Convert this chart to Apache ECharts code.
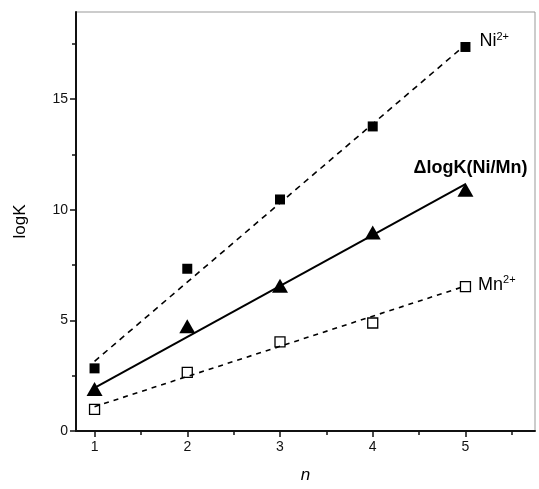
<!DOCTYPE html>
<html>
<head>
<meta charset="utf-8">
<script src="https://cdn.jsdelivr.net/npm/echarts@6/dist/echarts.min.js"></script>
<style>
  html, body { margin: 0; padding: 0; background: #fff; }
  #chart { width: 539px; height: 489px; }
</style>
</head>
<body>
<div id="chart"></div>
<script>
var chart = echarts.init(document.getElementById('chart'));

// valores
var n = [1, 2, 3, 4, 5];
var ni = [2.83, 7.33, 10.46, 13.76, 17.35];       // Ni2+ (cuadrado lleno)
var delta = [1.9, 4.73, 6.56, 8.97, 10.9];       // ΔlogK(Ni/Mn) (triángulo)
var mn = [0.98, 2.65, 4.03, 4.88, 6.52];         // Mn2+ (cuadrado vacío)

// extremos de las rectas de ajuste
var niFit = [3.15, 17.45];
var deltaFit = [1.95, 11.15];
var mnFit = [1.1, 6.55];

var xTicks = [1, 2, 3, 4, 5];
var xMinor = [1.5, 2.5, 3.5, 4.5, 5.5];
var yTicks = [0, 5, 10, 15];
var yMinor = [2.5, 7.5, 12.5, 17.5];

function pares(xs, ys) { return xs.map(function (x, i) { return [x, ys[i]]; }); }
function recta(f) { return [[n[0], f[0]], [n[n.length - 1], f[1]]]; }

var fuente = 'Liberation Sans, Arial, sans-serif';
var sup = { fontSize: 11, verticalAlign: 'top', padding: [0, 0, 9, 0], fontFamily: fuente, color: '#000' };

var ejeX = {
  type: 'value', min: 0.8, max: 5.75, position: 'bottom',
  splitLine: { show: false }
};
var ejeY = {
  type: 'value', min: 0, max: 18.93, position: 'left',
  splitLine: { show: false }
};

var option = {
  animation: false,
  grid: { left: 76, right: 4, top: 12, bottom: 53, show: true, borderColor: '#999', borderWidth: 1 },
  xAxis: [
    Object.assign({}, ejeX, {
      name: 'n', nameLocation: 'middle', nameGap: 36,
      nameTextStyle: { fontFamily: fuente, fontSize: 17, fontStyle: 'italic', color: '#000' },
      axisLine: { lineStyle: { color: '#111', width: 2 } },
      axisTick: { inside: false, length: 6, customValues: xTicks, lineStyle: { color: '#111', width: 1.5 } },
      axisLabel: { customValues: xTicks, margin: 9, fontFamily: fuente, fontSize: 14, color: '#111' }
    }),
    Object.assign({}, ejeX, {
      axisLine: { show: false },
      axisTick: { length: 4, customValues: xMinor, lineStyle: { color: '#111', width: 1.5 } },
      axisLabel: { show: false }
    })
  ],
  yAxis: [
    Object.assign({}, ejeY, {
      name: 'logK', nameLocation: 'middle', nameGap: 47,
      nameTextStyle: { fontFamily: fuente, fontSize: 17, color: '#000' },
      axisLine: { lineStyle: { color: '#111', width: 2 } },
      axisTick: { length: 6, customValues: yTicks, lineStyle: { color: '#111', width: 1.5 } },
      axisLabel: { customValues: yTicks, margin: 8, fontFamily: fuente, fontSize: 14, color: '#111' }
    }),
    Object.assign({}, ejeY, {
      axisLine: { show: false },
      axisTick: { length: 4, customValues: yMinor, lineStyle: { color: '#111', width: 1.5 } },
      axisLabel: { show: false }
    })
  ],
  series: [
    { type: 'line', data: recta(niFit), symbol: 'none', silent: true,
      lineStyle: { color: '#000', width: 1.6, type: [6, 5] } },
    { type: 'line', data: recta(deltaFit), symbol: 'none', silent: true,
      lineStyle: { color: '#000', width: 2 } },
    { type: 'line', data: recta(mnFit), symbol: 'none', silent: true,
      lineStyle: { color: '#000', width: 1.6, type: [5, 5] } },
    { name: 'Ni2+', type: 'scatter', data: pares(n, ni), symbol: 'rect', symbolSize: 10,
      itemStyle: { color: '#000', opacity: 1 },
      label: { show: true, position: 'right', distance: 9, offset: [0, -6],
        formatter: function (p) { return p.dataIndex === 4 ? 'Ni{s|2+}' : ''; },
        fontFamily: fuente, fontSize: 18, color: '#000', rich: { s: sup } } },
    { name: 'ΔlogK(Ni/Mn)', type: 'scatter', data: pares(n, delta), symbol: 'triangle', symbolSize: [16, 14],
      itemStyle: { color: '#000', opacity: 1 },
      label: { show: true, position: 'top', distance: 6, offset: [5, 0],
        formatter: function (p) { return p.dataIndex === 4 ? 'ΔlogK(Ni/Mn)' : ''; },
        fontFamily: fuente, fontSize: 18, fontWeight: 'bold', color: '#000' } },
    { name: 'Mn2+', type: 'scatter', data: pares(n, mn), symbol: 'rect', symbolSize: 10,
      itemStyle: { color: '#fff', borderColor: '#000', borderWidth: 1.3, opacity: 1 },
      label: { show: true, position: 'right', distance: 7, offset: [0, -2],
        formatter: function (p) { return p.dataIndex === 4 ? 'Mn{s|2+}' : ''; },
        fontFamily: fuente, fontSize: 18, color: '#000', rich: { s: sup } } }
  ]
};

chart.setOption(option);
</script>
</body>
</html>
